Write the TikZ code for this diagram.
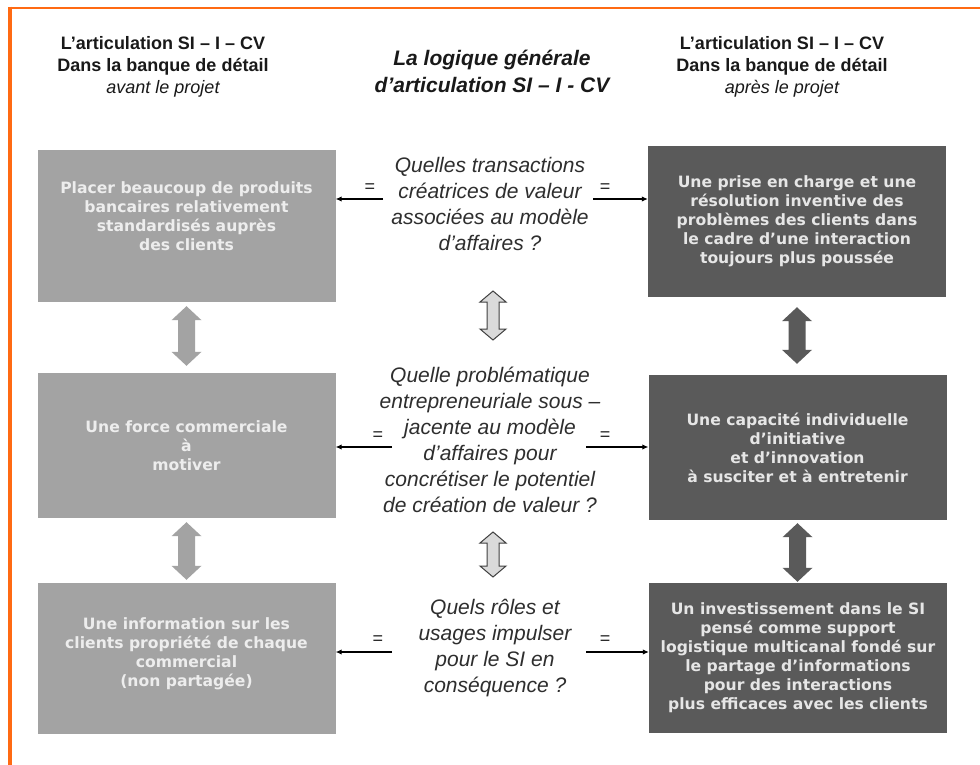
\documentclass[tikz,border=0pt]{standalone}
\usepackage{fontspec}
\setmainfont{Liberation Sans}
\newfontfamily\boxfont{DejaVu Sans}
\usetikzlibrary{arrows.meta,calc}
\definecolor{orangeline}{HTML}{FF6A13}
\definecolor{lightbox}{HTML}{A3A3A3}
\definecolor{darkbox}{HTML}{5A5A5A}
\definecolor{lighttext}{HTML}{EDEDED}
\definecolor{darktext}{HTML}{E6E6E6}
\definecolor{qtext}{HTML}{2E2E2E}
\definecolor{hollowfill}{HTML}{DADADA}
\newcommand\darrowpath[6]{%
  \path[#1] let \p1=#2, \p2=#3 in
   (\x1,\y1) -- ({\x1+#4pt},{\y1-#6pt}) -- ({\x1+#5pt},{\y1-#6pt})
   -- ({\x1+#5pt},{\y2+#6pt}) -- ({\x1+#4pt},{\y2+#6pt}) -- (\x1,\y2)
   -- ({\x1-#4pt},{\y2+#6pt}) -- ({\x1-#5pt},{\y2+#6pt})
   -- ({\x1-#5pt},{\y1-#6pt}) -- ({\x1-#4pt},{\y1-#6pt}) -- cycle;}
\tikzset{
  boxbase/.style={rectangle, inner sep=0pt, minimum width=298pt, align=center,
    font={\boxfont\bfseries\fontsize{15.6}{19}\selectfont}},
  lbox/.style={boxbase, fill=lightbox, text=lighttext},
  rbox/.style={boxbase, fill=darkbox, text=darktext},
  title/.style={align=center, text=black!90, font={\bfseries\fontsize{18}{22}\selectfont}},
  question/.style={align=center, text=qtext, font={\itshape\fontsize{21}{26}\selectfont}},
  eqsign/.style={text=black!85, font={\fontsize{18}{18}\selectfont}, inner sep=0pt},
  link/.style={line width=1.1pt, black, -{Latex[length=6pt,width=5.5pt]}},
}
\begin{document}
\begin{tikzpicture}[x=1pt,y=-1pt]
\useasboundingbox (0,0) rectangle (980,765);
\fill[white] (0,0) rectangle (980,765);
% orange frame
\draw[orangeline, line width=2.5pt] (8,8) -- (980,8);
\draw[orangeline, line width=4pt] (9.5,6.75) -- (9.5,765);

% titles
\node[title] (TL) at (163,67) {L’articulation SI – I – CV\\Dans la banque de détail\\{\mdseries\itshape avant le projet}};
\node[title] (TR) at (782,67) {L’articulation SI – I – CV\\Dans la banque de détail\\{\mdseries\itshape après le projet}};
\node[title, font={\bfseries\itshape\fontsize{21}{27}\selectfont}] (TM) at (492,71) {La logique générale\\d’articulation SI – I - CV};

% left boxes
\node[lbox, minimum height=152pt] (L1) at (186.5,226) {Placer beaucoup de produits\\bancaires relativement\\standardisés auprès\\des clients\\[1pt]};
\node[lbox, minimum height=145pt] (L2) at (186.5,445.5) {Une force commerciale\\à\\motiver};
\node[lbox, minimum height=151pt] (L3) at (186.5,658.5) {Une information sur les\\clients propriété de chaque\\commercial\\(non partagée)\\[-6pt]};

% right boxes
\node[rbox, minimum height=151pt] (R1) at (797,221.5) {Une prise en charge et une\\résolution inventive des\\problèmes des clients dans\\le cadre d’une interaction\\toujours plus poussée};
\node[rbox, minimum height=145pt] (R2) at (797.5,447.5) {Une capacité individuelle\\d’initiative\\et d’innovation\\à susciter et à entretenir};
\node[rbox, minimum height=150pt] (R3) at (798,658) {Un investissement dans le SI\\pensé comme support\\logistique multicanal fondé sur\\le partage d’informations\\pour des interactions\\plus efficaces avec les clients};

% middle questions
\node[question] (M1) at (490,204) {Quelles transactions\\créatrices de valeur\\associées au modèle\\d’affaires ?};
\node[question] (M2) at (490,440) {Quelle problématique\\entrepreneuriale sous –\\jacente au modèle\\d’affaires pour\\concrétiser le potentiel\\de création de valeur ?};
\node[question] (M3) at (495,648) {Quels rôles et\\usages impulser\\pour le SI en\\conséquence ?};

% vertical block arrows
\darrowpath{fill=lightbox}{($(L1.south)+(0,4)$)}{($(L2.north)+(0,-7)$)}{15}{8.5}{14}
\darrowpath{fill=lightbox}{($(L2.south)+(0,4)$)}{($(L3.north)+(0,-3)$)}{15}{8.5}{14}
\darrowpath{fill=darkbox}{($(R1.south)+(0,10)$)}{($(R2.north)+(0,-11)$)}{15}{8.5}{14}
\darrowpath{fill=darkbox}{($(R2.south)+(0,3)$)}{($(R3.north)+(0,-1)$)}{15}{8.5}{14}

% hollow arrows in the middle
\coordinate (H1t) at (493,291);
\coordinate (H1b) at (493,340);
\coordinate (H2t) at (493,532);
\coordinate (H2b) at (493,577);
\darrowpath{fill=hollowfill, draw=black!75, line width=1pt}{(H1t)}{(H1b)}{13}{6}{11}
\darrowpath{fill=hollowfill, draw=black!75, line width=1pt}{(H2t)}{(H2b)}{13}{6}{11}

% horizontal links
\coordinate (A1l) at (383,199);
\coordinate (A1r) at (593,199);
\coordinate (A2l) at (392,447);
\coordinate (A2r) at (586,447);
\coordinate (A3l) at (392,652);
\coordinate (A3r) at (586,652);
\draw[link] (A1l) -- (A1l -| L1.east);
\draw[link] (A1r) -- (A1r -| R1.west);
\draw[link] (A2l) -- (A2l -| L2.east);
\draw[link] (A2r) -- (A2r -| R2.west);
\draw[link] (A3l) -- (A3l -| L3.east);
\draw[link] (A3r) -- (A3r -| R3.west);

% equal signs
\node[eqsign] (E1l) at (370,188) {=};
\node[eqsign] (E1r) at (605,188) {=};
\node[eqsign] (E2l) at (378,436) {=};
\node[eqsign] (E2r) at (605,436) {=};
\node[eqsign] (E3l) at (378,640) {=};
\node[eqsign] (E3r) at (605,640) {=};
\end{tikzpicture}
\end{document}
